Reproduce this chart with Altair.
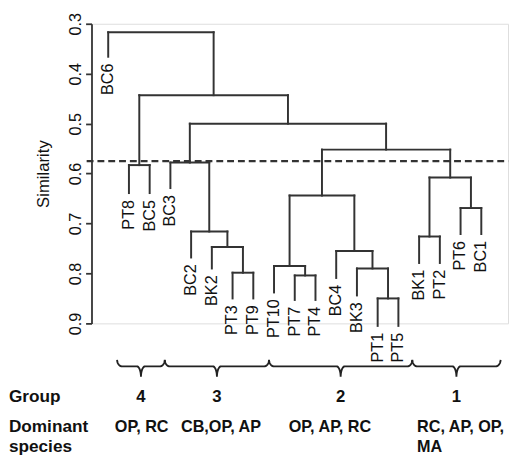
import math
import altair as alt
import pandas as pd

# ---------------- data ----------------
leaf_names = ["BC6", "PT8", "BC5", "BC3", "BC2", "BK2", "PT3", "PT9", "PT10", "PT7",
              "PT4", "BC4", "BK3", "PT1", "PT5", "BK1", "PT2", "PT6", "BC1"]
# similarity where each leaf's hanging stem ends
leaf_ends = [0.366, 0.639, 0.639, 0.629, 0.768, 0.790, 0.850, 0.850, 0.838, 0.853,
             0.853, 0.809, 0.844, 0.905, 0.905, 0.779, 0.779, 0.721, 0.721]

# hclust-style merge table: negative -> leaf (1-based), positive -> earlier merge (1-based)
merge_left = [-7, -6, -5, -4, -2, -10, -9, -14, -13, -12, 7, -16, -18, 12, 11, 4, 5, -1]
merge_right = [-8, 1, 2, 3, -3, -11, 6, -15, 8, 9, 10, -17, -19, 13, 14, 15, 16, 17]
merge_sim = [0.7985, 0.747, 0.716, 0.578, 0.583, 0.804, 0.785, 0.850, 0.790, 0.755,
             0.644, 0.726, 0.669, 0.608, 0.552, 0.500, 0.443, 0.317]

cut_similarity = 0.575
cut_extent = [-1.04, 19.3]

y_ticks = [0.3, 0.4, 0.5, 0.6, 0.7, 0.8, 0.9]

group_names = ["4", "3", "2", "1"]
brace_start = [0.43, 2.73, 7.76, 14.67]
brace_end = [2.73, 7.76, 14.67, 18.93]
species = ["OP, RC", "CB,OP, AP", "OP, AP, RC", "RC, AP, OP,\nMA"]
species_x = [0.32, 3.51, 8.71, 14.9]
row_titles = ["Group", "Dominant\nspecies"]
row_title_x = -4.79
# levels (on the similarity scale, below the axis) of the annotation rows
brace_levels = [0.973, 0.986, 1.007]   # end tips, bar, centre tip
group_row = 1.057
species_row = 1.118

# ---------------- build tables ----------------
pos = {}
top = {}
for i in range(len(leaf_names)):
    pos[-(i + 1)] = float(i)
    top[-(i + 1)] = leaf_ends[i]

seg_rows = []
for k, (a, b, h) in enumerate(zip(merge_left, merge_right, merge_sim), start=1):
    xa, xb = pos[a], pos[b]
    seg_rows.append({"x": xa, "x2": xb, "y": h, "y2": h})
    seg_rows.append({"x": xa, "x2": xa, "y": top[a], "y2": h})
    seg_rows.append({"x": xb, "x2": xb, "y": top[b], "y2": h})
    pos[k] = (xa + xb) / 2
    top[k] = h
seg_df = pd.DataFrame(seg_rows)

leaf_df = pd.DataFrame({"x": list(range(len(leaf_names))), "y": leaf_ends, "name": leaf_names})

cut_df = pd.DataFrame({"x": [cut_extent[0]], "x2": [cut_extent[1]], "y": [cut_similarity]})


def brace(x0, x1, levels, r_end=0.24, r_tip=0.2, n=10):
    y_top, y_mid, y_tip = levels
    xm = (x0 + x1) / 2
    half = []
    for i in range(n + 1):
        t = (math.pi / 2) * i / n
        half.append((x0 + r_end * (1 - math.cos(t)), y_top + (y_mid - y_top) * math.sin(t)))
    for i in range(n + 1):
        t = (math.pi / 2) * i / n
        half.append((xm - r_tip + r_tip * math.sin(t), y_mid + (y_tip - y_mid) * (1 - math.cos(t))))
    other = [(2 * xm - x, y) for (x, y) in reversed(half)]
    return half + other


brace_rows = []
for g, (s, e) in enumerate(zip(brace_start, brace_end)):
    for j, (x, y) in enumerate(brace(s, e, brace_levels)):
        brace_rows.append({"g": g, "o": j, "x": x, "y": y})
brace_df = pd.DataFrame(brace_rows)

group_df = pd.DataFrame({"x": [(s + e) / 2 for s, e in zip(brace_start, brace_end)],
                         "y": [group_row] * 4, "t": group_names})
species_df = pd.DataFrame({"x": species_x, "y": [species_row] * 4, "t": species})
rowtitle_df = pd.DataFrame({"x": [row_title_x, row_title_x], "y": [group_row, species_row],
                            "t": row_titles})

# ---------------- chart ----------------
FONT = "Liberation Sans"
LINE = "#333333"
INK = "#111111"

xscale = alt.Scale(domain=[-0.806, 19.29], nice=False, zero=False)
yscale = alt.Scale(domain=[0.3, 0.9], reverse=True, nice=False, zero=False)
yaxis = alt.Axis(values=y_ticks, format=".1f", title="Similarity", grid=False,
                 labelAngle=270, labelAlign="center", labelBaseline="alphabetic",
                 labelPadding=5, tickSize=6, labelFlush=False, labelOverlap=False,
                 labelFont=FONT, labelFontSize=16.5, labelColor=INK,
                 titleFont=FONT, titleFontSize=17, titleFontWeight="normal",
                 titleColor=INK, titlePadding=16,
                 domainColor=LINE, tickColor=LINE, domainWidth=1.8, tickWidth=1.8)

X = alt.X("x:Q", scale=xscale, axis=None)
Y = alt.Y("y:Q", scale=yscale, axis=yaxis)

segs = alt.Chart(seg_df).mark_rule(color=LINE, strokeWidth=2, strokeCap="square").encode(
    x=X, x2="x2:Q", y=Y, y2="y2:Q")

cut = alt.Chart(cut_df).mark_rule(color=LINE, strokeWidth=2.2, strokeDash=[7, 4]).encode(
    x=X, x2="x2:Q", y=Y)

labels = alt.Chart(leaf_df).mark_text(angle=270, align="right", baseline="middle", dx=-7,
                                      font=FONT, fontSize=16.5, color=INK).encode(
    x=X, y=Y, text="name:N")

braces = alt.Chart(brace_df).mark_line(color="#222222", strokeWidth=1.9).encode(
    x=X, y=Y, detail="g:N", order="o:Q")

groups = alt.Chart(group_df).mark_text(align="center", baseline="alphabetic", font=FONT,
                                       fontSize=17, fontWeight="bold", color=INK).encode(
    x=X, y=Y, text="t:N")

spec = alt.Chart(species_df).mark_text(align="left", baseline="alphabetic", font=FONT,
                                       fontSize=16.5, fontWeight="bold", color=INK,
                                       lineBreak="\n", lineHeight=20).encode(
    x=X, y=Y, text="t:N")

rowt = alt.Chart(rowtitle_df).mark_text(align="left", baseline="alphabetic", font=FONT,
                                        fontSize=17.5, fontWeight="bold", color=INK,
                                        lineBreak="\n", lineHeight=20).encode(
    x=X, y=Y, text="t:N")

chart = alt.layer(segs, cut, labels, braces, groups, spec, rowt).properties(
    width=424, height=305, padding=0
).configure_view(stroke=None).configure(font=FONT)

chart.save("out.html", embed_options={"renderer": "svg", "actions": False})
